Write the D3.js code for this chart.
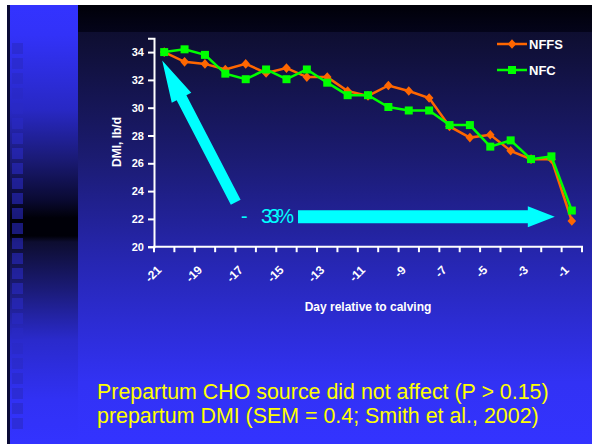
<!DOCTYPE html>
<html>
<head>
<meta charset="utf-8">
<script src="https://cdn.jsdelivr.net/npm/d3@7"></script>
<style>
  html, body { margin: 0; padding: 0; background: #fff; }
  svg { display: block; font-family: "Liberation Sans", Arial, sans-serif; }
</style>
</head>
<body>
<svg id="chart" width="592" height="444"></svg>
<script>
// ---- data ----
const days = [-21, -20, -19, -18, -17, -16, -15, -14, -13, -12, -11, -10, -9, -8, -7, -6, -5, -4, -3, -2, -1];
const tickDays = [-21, -19, -17, -15, -13, -11, -9, -7, -5, -3, -1];
const nffs = [34.0, 33.3, 33.15, 32.75, 33.15, 32.5, 32.85, 32.2, 32.2, 31.2, 30.85, 31.6, 31.2, 30.7, 28.65, 27.85, 28.05, 26.9, 26.3, 26.3, 21.85];
const nfc  = [34.0, 34.2, 33.8, 32.45, 32.05, 32.75, 32.05, 32.75, 31.8, 30.9, 30.9, 30.05, 29.8, 29.8, 28.75, 28.75, 27.2, 27.65, 26.3, 26.5, 22.6];
const yTicks = [20, 22, 24, 26, 28, 30, 32, 34];
const seriesNames = ["NFFS", "NFC"];
const footLines = ["Prepartum CHO source did not affect (P > 0.15)", "prepartum DMI (SEM = 0.4; Smith et al., 2002)"];
const dropLabel = "33%";

const svg = d3.select("#chart");
const defs = svg.append("defs");

// ---- slide background ----
const mainGrad = defs.append("linearGradient").attr("id", "mainGrad")
  .attr("gradientUnits", "userSpaceOnUse").attr("x1", 0).attr("y1", 32).attr("x2", 0).attr("y2", 444);
[[0, "#0e0e30"], [0.3, "#1b1b70"], [0.55, "#2626b0"], [0.85, "#3232f4"], [1, "#3333ff"]]
  .forEach(([o, c]) => mainGrad.append("stop").attr("offset", o).attr("stop-color", c));

const topGrad = defs.append("linearGradient").attr("id", "topGrad")
  .attr("x1", 0).attr("y1", 0).attr("x2", 0).attr("y2", 1);
[[0, "#000008"], [1, "#04041a"]].forEach(([o, c]) => topGrad.append("stop").attr("offset", o).attr("stop-color", c));

const leftGrad = defs.append("linearGradient").attr("id", "leftGrad")
  .attr("gradientUnits", "userSpaceOnUse").attr("x1", 0).attr("y1", 5).attr("x2", 0).attr("y2", 444);
[[5, "#3333ff"], [35, "#3232f8"], [110, "#2828c4"], [160, "#1a1a74"], [200, "#0a0a32"], [218, "#000008"],
 [236, "#000008"], [242, "#0d0d30"], [290, "#1b1b78"], [340, "#2a2acc"], [400, "#3131f4"], [444, "#3333ff"]]
  .forEach(([y, c]) => leftGrad.append("stop").attr("offset", (y - 5) / 439).attr("stop-color", c));

svg.append("rect").attr("x", 7).attr("y", 5).attr("width", 585).attr("height", 439).attr("fill", "#0b0b36");
svg.append("rect").attr("x", 78).attr("y", 32).attr("width", 514).attr("height", 412).attr("fill", "url(#mainGrad)");
svg.append("rect").attr("x", 78).attr("y", 5).attr("width", 514).attr("height", 27).attr("fill", "url(#topGrad)");
svg.append("rect").attr("x", 10).attr("y", 5).attr("width", 68).attr("height", 439).attr("fill", "url(#leftGrad)");
// decorative squares column
d3.range(43, 420, 15).forEach(yy => {
  svg.append("rect").attr("x", 12).attr("y", yy).attr("width", 11).attr("height", 11)
    .attr("fill", "#2a2ac4").attr("opacity", 0.6);
});

// ---- scales ----
const x = d3.scaleBand().domain(days).range([154, 582]).padding(0);
const bw = x.bandwidth();
const xc = d => x(d) + bw / 2;
const y = d3.scaleLinear().domain([20, 35]).range([246.7, 38.2]);

const white = "#ffffff";

// ---- axes ----
const yAxis = svg.append("g").attr("transform", `translate(154,0)`)
  .call(d3.axisLeft(y).tickValues(yTicks).tickSize(6).tickPadding(4));
yAxis.select(".domain").attr("stroke", white).attr("stroke-width", 2);
yAxis.selectAll(".tick line").attr("stroke", white).attr("stroke-width", 2);
yAxis.selectAll(".tick text").attr("fill", white).attr("font-size", 11).attr("font-weight", "bold")
  .attr("font-family", "Liberation Sans, Arial, sans-serif");

// x axis (ticks at category boundaries, Excel style)
const xAxisG = svg.append("g");
xAxisG.append("line").attr("x1", 153).attr("x2", x.range()[1] + 1).attr("y1", y(20)).attr("y2", y(20))
  .attr("stroke", white).attr("stroke-width", 2);
const bounds = days.map(d => x(d)).concat([x.range()[1]]);
xAxisG.selectAll("line.xt").data(bounds).join("line").attr("class", "xt")
  .attr("x1", d => d).attr("x2", d => d).attr("y1", y(20)).attr("y2", y(20) + 5.5)
  .attr("stroke", white).attr("stroke-width", 2);
xAxisG.selectAll("text.xl").data(tickDays).join("text").attr("class", "xl")
  .attr("transform", d => `translate(${xc(d) - 5},${y(20) + 21}) rotate(-45)`)
  .attr("text-anchor", "end").attr("dy", "0.35em")
  .attr("fill", white).attr("font-size", 12).attr("font-weight", "bold")
  .text(d => d);

// axis titles
svg.append("text").attr("x", 368).attr("y", 311).attr("text-anchor", "middle")
  .attr("fill", white).attr("font-size", 12).attr("font-weight", "bold").text("Day relative to calving");
svg.append("text").attr("transform", "translate(121,142) rotate(-90)").attr("text-anchor", "middle")
  .attr("fill", white).attr("font-size", 12).attr("font-weight", "bold").text("DMI, lb/d");

// ---- annotation arrows (cyan) ----
const cyan = "#00ffff";
function arrow(x0, y0, x1, y1, shaftW, headW, headL) {
  const dx = x1 - x0, dy = y1 - y0, L = Math.hypot(dx, dy);
  const ux = dx / L, uy = dy / L, px = -uy, py = ux;
  const bx = x1 - ux * headL, by = y1 - uy * headL;
  const pts = [
    [x0 + px * shaftW / 2, y0 + py * shaftW / 2],
    [bx + px * shaftW / 2, by + py * shaftW / 2],
    [bx + px * headW / 2, by + py * headW / 2],
    [x1, y1],
    [bx - px * headW / 2, by - py * headW / 2],
    [bx - px * shaftW / 2, by - py * shaftW / 2],
    [x0 - px * shaftW / 2, y0 - py * shaftW / 2]
  ];
  svg.append("path").attr("d", d3.line()(pts) + "Z").attr("fill", cyan);
}
// diagonal arrow: from near day -17 low down up to the first NFFS/NFC point
arrow(xc(-17) - 10, y(23.2), xc(-21) - 2, y(33.4), 11, 22, 42);
// horizontal arrow towards the last point
arrow(298, y(22.15), xc(-1) - 17, y(22.15), 13, 21, 27);

svg.append("text").attr("x", 241).attr("y", 222.5).attr("fill", cyan).attr("font-size", 20).text("-");
svg.append("text").attr("x", 261).attr("y", 222.5).attr("fill", cyan).attr("font-size", 20)
  .attr("letter-spacing", -3.5).text(dropLabel);

// ---- series ----
const orange = "#ff6600", green = "#00ff00";
const line = d3.line().x((v, i) => xc(days[i])).y(v => y(v));
svg.append("path").attr("d", line(nffs)).attr("fill", "none").attr("stroke", orange).attr("stroke-width", 2.5);
const diamond = "M0,-4.8L4.3,0L0,4.8L-4.3,0Z";
svg.selectAll("path.dia").data(nffs).join("path").attr("class", "dia")
  .attr("transform", (v, i) => `translate(${xc(days[i])},${y(v)})`).attr("d", diamond).attr("fill", orange);

svg.append("path").attr("d", line(nfc)).attr("fill", "none").attr("stroke", green).attr("stroke-width", 2.5);
svg.selectAll("rect.sq").data(nfc).join("rect").attr("class", "sq")
  .attr("x", (v, i) => xc(days[i]) - 4).attr("y", v => y(v) - 4).attr("width", 8).attr("height", 8).attr("fill", green);

// ---- legend ----
const leg = svg.append("g");
[[seriesNames[0], orange, 44, "d"], [seriesNames[1], green, 70, "s"]].forEach(([name, col, ly, m]) => {
  leg.append("line").attr("x1", 497).attr("x2", 527).attr("y1", ly).attr("y2", ly).attr("stroke", col).attr("stroke-width", 2.5);
  if (m === "d") leg.append("path").attr("d", diamond).attr("transform", `translate(512,${ly})`).attr("fill", col);
  else leg.append("rect").attr("x", 508).attr("y", ly - 4).attr("width", 8).attr("height", 8).attr("fill", col);
  leg.append("text").attr("x", 529).attr("y", ly + 5).attr("fill", white).attr("font-size", 13)
    .attr("font-weight", "bold").text(name);
});

// ---- footnote ----
svg.selectAll("text.foot").data(footLines).join("text").attr("class", "foot")
  .attr("x", 97).attr("y", (d, i) => 399 + i * 24).attr("fill", "#ffff00").attr("font-size", 21.4).text(d => d);
</script>
</body>
</html>
